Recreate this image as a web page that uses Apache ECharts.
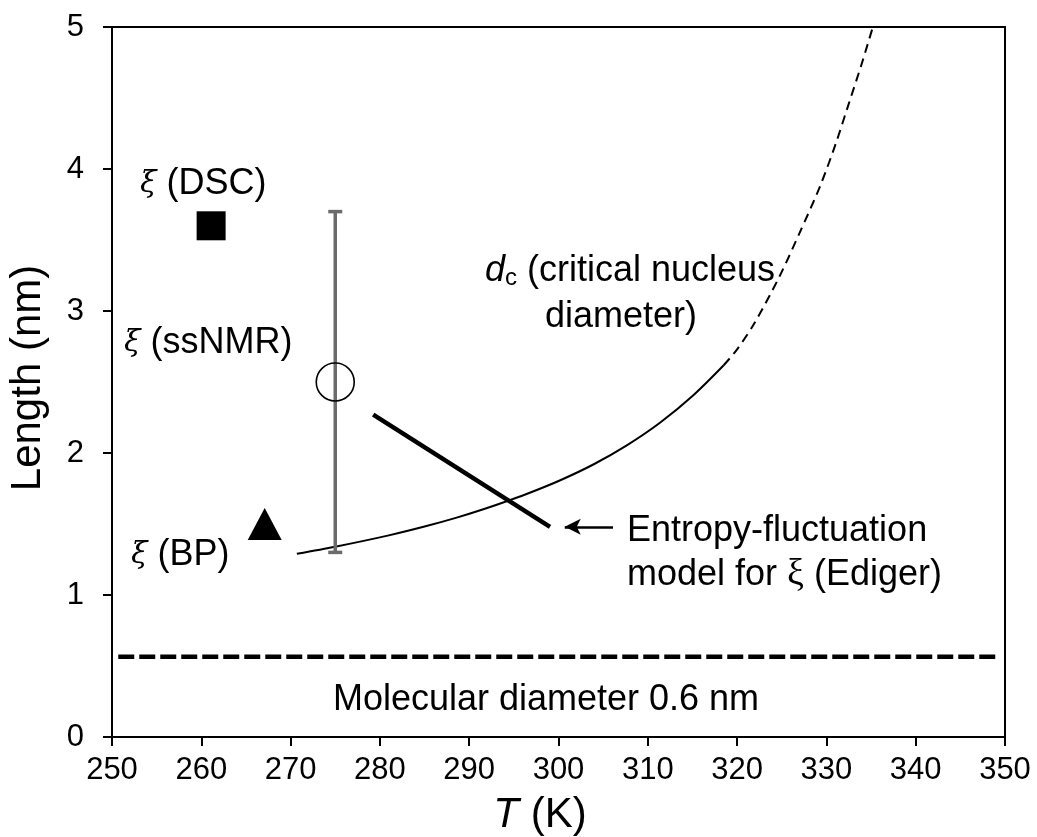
<!DOCTYPE html>
<html><head><meta charset="utf-8">
<script src="https://cdn.jsdelivr.net/npm/echarts@6/dist/echarts.min.js"></script>
<style>html,body{margin:0;padding:0;background:#fff}#c{width:1037px;height:837px}</style>
</head><body><div id="c"></div>
<script>
// ---- data ----
const xRange = [250, 350];
const yRange = [0, 5];
const dscPoint = [[261.1, 3.6]];
const bpPoint = [[267.1, 1.5]];
const nmrPoint = [[275, 2.5]];
const nmrErr = [[275, 1.3, 3.7]];
const edigerLine = [[279.25, 2.27], [299.05, 1.48]];
const dcSolid = [[270.7, 1.29], [275, 1.34], [281, 1.42], [285, 1.482], [288.6, 1.545], [291.5, 1.602], [294.6, 1.669], [297, 1.725], [300.2, 1.808], [303.9, 1.919], [307.6, 2.052], [311.4, 2.215], [315.1, 2.407], [318.5, 2.618]];
const dcDashed = [[318.5, 2.618], [320, 2.73], [322, 2.92], [324.8, 3.25], [327, 3.55], [329.3, 3.88], [331, 4.17], [332.3, 4.42], [334, 4.75], [335.2, 5.0]];
const molecularLine = [[250.7, 0.565], [349.4, 0.565]];
const arrowFrom = [306.1, 1.48];
const arrowTo = [300.7, 1.48];

const SANS = 'Liberation Sans, Arial, sans-serif';
const chart = echarts.init(document.getElementById('c'), null, {renderer: 'canvas'});

const xiRich = {xi: {fontFamily: 'DejaVu Serif', fontStyle: 'italic', fontSize: 30, color: '#000'}};

function txt(x, y, text, extra) {
  return {
    type: 'text', x: x, y: y, z: 100,
    style: Object.assign({text: text, font: '36px ' + SANS, fill: '#000', textAlign: 'left', textVerticalAlign: 'middle'}, extra || {})
  };
}

const option = {
  animation: false,
  backgroundColor: '#fff',
  grid: {left: 112, right: 32, top: 27, bottom: 100, show: true, borderColor: '#000', borderWidth: 2, backgroundColor: 'transparent'},
  xAxis: {
    type: 'value', min: xRange[0], max: xRange[1], interval: 10,
    axisLine: {show: true, lineStyle: {color: '#000', width: 2}},
    axisTick: {show: true, inside: false, length: 9, lineStyle: {color: '#000', width: 2}},
    axisLabel: {color: '#000', fontSize: 31, fontFamily: SANS, margin: 18},
    splitLine: {show: false}
  },
  yAxis: {
    type: 'value', min: yRange[0], max: yRange[1], interval: 1,
    axisLine: {show: true, lineStyle: {color: '#000', width: 2}},
    axisTick: {show: true, inside: false, length: 9, lineStyle: {color: '#000', width: 2}},
    axisLabel: {color: '#000', fontSize: 31, fontFamily: SANS, margin: 28},
    splitLine: {show: false}
  },
  series: [
    {
      type: 'line', data: molecularLine, symbol: 'none', z: 3,
      lineStyle: {color: '#000', width: 4.5, type: [16, 5], cap: 'butt'}
    },
    {
      type: 'line', data: dcSolid, symbol: 'none', smooth: 0.3, z: 3,
      lineStyle: {color: '#000', width: 2}
    },
    {
      type: 'line', data: dcDashed, symbol: 'none', smooth: 0.3, z: 3,
      lineStyle: {color: '#000', width: 2, type: [9, 6]}
    },
    {
      type: 'line', data: edigerLine, symbol: 'none', z: 4,
      lineStyle: {color: '#000', width: 4.5, cap: 'butt'}
    },
    {
      type: 'custom', data: nmrErr, z: 4,
      encode: {x: 0, y: [1, 2]},
      renderItem: function (params, api) {
        const x = api.value(0);
        const lo = api.coord([x, api.value(1)]);
        const hi = api.coord([x, api.value(2)]);
        const hw = 7;
        const st = {stroke: '#6b6b6b', lineWidth: 3.5};
        return {type: 'group', children: [
          {type: 'line', shape: {x1: lo[0], y1: lo[1], x2: hi[0], y2: hi[1]}, style: st},
          {type: 'line', shape: {x1: lo[0] - hw, y1: lo[1], x2: lo[0] + hw, y2: lo[1]}, style: st},
          {type: 'line', shape: {x1: hi[0] - hw, y1: hi[1], x2: hi[0] + hw, y2: hi[1]}, style: st}
        ]};
      }
    },
    {
      type: 'scatter', data: nmrPoint, symbol: 'circle', symbolSize: 38, z: 5,
      itemStyle: {color: 'rgba(0,0,0,0)', borderColor: '#000', borderWidth: 1.6, opacity: 1}
    },
    {
      type: 'scatter', data: dscPoint, symbol: 'rect', symbolSize: 29, z: 5,
      itemStyle: {color: '#000', opacity: 1}
    },
    {
      type: 'scatter', data: bpPoint, symbol: 'triangle', symbolSize: [34, 32], z: 5,
      itemStyle: {color: '#000', opacity: 1}
    },
    {
      type: 'line', data: [], z: 5,
      markLine: {
        silent: true, animation: false,
        symbol: ['none', 'arrow'], symbolSize: [12, 16],
        label: {show: false},
        lineStyle: {color: '#000', width: 2.5, type: 'solid'},
        data: [[{coord: arrowFrom}, {coord: arrowTo}]]
      }
    }
  ],
  graphic: [
    txt(140, 184, '{xi|ξ} (DSC)', {rich: xiRich}),
    txt(124, 343, '{xi|ξ} (ssNMR)', {rich: xiRich}),
    txt(131, 555, '{xi|ξ} (BP)', {rich: xiRich}),
    txt(485, 271, '{d|d}{sub|c} (critical nucleus', {rich: {
      d: {fontFamily: SANS, fontStyle: 'italic', fontSize: 36, color: '#000'},
      sub: {fontFamily: SANS, fontSize: 24, color: '#000', verticalAlign: 'bottom', padding: [14, 0, 0, 0]}
    }}),
    txt(545, 317, 'diameter)'),
    txt(627, 531, 'Entropy-fluctuation'),
    txt(627, 575, 'model for {g|ξ} (Ediger)', {rich: {g: {fontFamily: 'Liberation Serif', fontSize: 38, color: '#000'}}}),
    txt(546, 700, 'Molecular diameter 0.6 nm', {textAlign: 'center'}),
    txt(540, 815, '{it|T} (K)', {textAlign: 'center', font: '42px ' + SANS, rich: {it: {fontFamily: SANS, fontStyle: 'italic', fontSize: 42, color: '#000'}}}),
    {type: 'text', x: 28, y: 378, rotation: Math.PI / 2, z: 100,
      style: {text: 'Length (nm)', font: '42px ' + SANS, fill: '#000', textAlign: 'center', textVerticalAlign: 'middle'}}
  ]
};
chart.setOption(option);
</script>
</body></html>
